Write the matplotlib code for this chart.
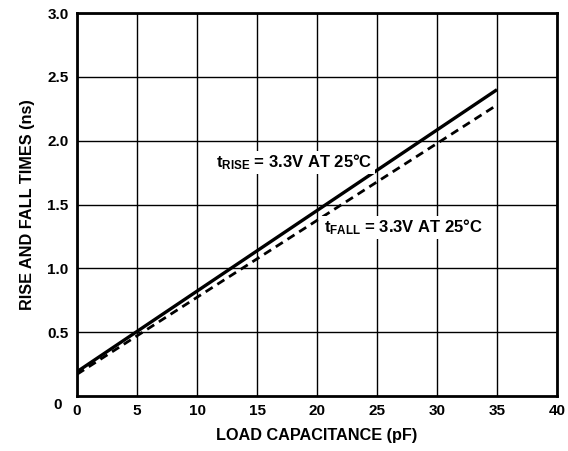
import matplotlib
matplotlib.use('Agg')
import matplotlib.pyplot as plt

plt.rcParams['font.family'] = ['Liberation Sans', 'DejaVu Sans']
plt.rcParams['font.weight'] = 'bold'
plt.rcParams['mathtext.fontset'] = 'custom'
plt.rcParams['mathtext.rm'] = 'Liberation Sans:bold'
plt.rcParams['mathtext.bf'] = 'Liberation Sans:bold'
plt.rcParams['mathtext.it'] = 'Liberation Sans:bold'

# load capacitance (pF) vs rise/fall time (ns)
cap = [0, 35]
t_rise = [0.19, 2.40]
t_fall = [0.17, 2.28]

x_ticks = [0, 5, 10, 15, 20, 25, 30, 35, 40]
y_ticks = [0.5, 1.0, 1.5, 2.0, 2.5, 3.0]

fig = plt.figure(figsize=(5.68, 4.51), dpi=100)
ax = fig.add_axes([0.1356, 0.122, 0.845, 0.849])

ax.plot(cap, t_rise, color='black', lw=2.4, solid_capstyle='butt')
ax.plot(cap, t_fall, color='black', lw=2.0, dashes=(3, 2))

ax.set_xlim(0, 40)
ax.set_ylim(0, 3.0)
ax.set_xticks(x_ticks)
ax.set_yticks(y_ticks)
ax.set_yticklabels(['%.1f' % v for v in y_ticks])
ax.grid(True, color='black', lw=1.0)
ax.set_axisbelow(True)
ax.tick_params(length=0, labelsize=11, pad=6)
for s in ax.spines.values():
    s.set_linewidth(2.0)

# y-axis zero label sits a little below the corner
ax.text(-1.3, -0.07, '0', ha='right', va='center', fontsize=11, fontweight='bold')

ax.set_xlabel('LOAD CAPACITANCE (pF)', fontsize=11.7, fontweight='bold', labelpad=7)
ax.set_ylabel('RISE AND FALL TIMES (ns)', fontsize=11.7, fontweight='bold', labelpad=9)

box = dict(facecolor='white', edgecolor='none', pad=1.5)
ax.text(11.6, 1.79, r'$\mathrm{t_{RISE}}$ = 3.3V AT 25°C', fontsize=12, fontweight='bold',
        ha='left', va='baseline', bbox=box, zorder=3)
ax.text(20.6, 1.28, r'$\mathrm{t_{FALL}}$ = 3.3V AT 25°C', fontsize=12, fontweight='bold',
        ha='left', va='baseline', bbox=box, zorder=3)

fig.savefig('out.png', dpi=100)
